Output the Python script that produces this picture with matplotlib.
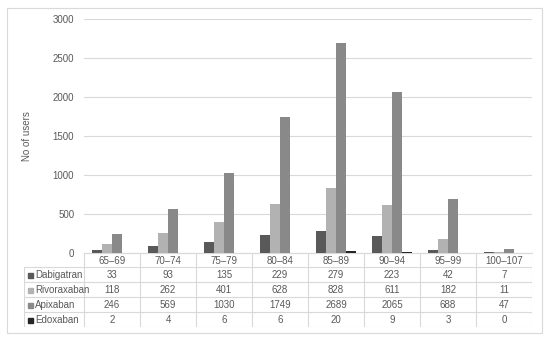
import numpy as np
import matplotlib
matplotlib.use("Agg")
import matplotlib.pyplot as plt
from matplotlib.patches import Rectangle

# --- Dados ---
faixas = ["65–69", "70–74", "75–79", "80–84", "85–89", "90–94", "95–99", "100–107"]
dabigatran = [33, 93, 135, 229, 279, 223, 42, 7]
rivoraxaban = [118, 262, 401, 628, 828, 611, 182, 11]
apixaban = [246, 569, 1030, 1749, 2689, 2065, 688, 47]
edoxaban = [2, 4, 6, 6, 20, 9, 3, 0]

nomes = ["Dabigatran", "Rivoraxaban", "Apixaban", "Edoxaban"]
series = [dabigatran, rivoraxaban, apixaban, edoxaban]
cores = ["#595959", "#b2b2b2", "#898989", "#262626"]

cor_texto = "#595959"
cor_linha = "#d9d9d9"
plt.rcParams["font.family"] = ["Liberation Sans", "DejaVu Sans"]

W, H = 550, 341
fig = plt.figure(figsize=(W / 100, H / 100), dpi=100)

def px_axes(x0, y0, x1, y1):
    # retangulo em pixels (origem no topo)
    return fig.add_axes([x0 / W, 1 - y1 / H, (x1 - x0) / W, (y1 - y0) / H])

# borda externa
fig.patches.append(Rectangle((7 / W, 1 - 333 / H), 535 / W, 325 / H,
                             transform=fig.transFigure, fill=False,
                             edgecolor=cor_linha, linewidth=0.8))

# --- Grafico de barras ---
ax = px_axes(84, 19, 532, 253)
x = np.arange(len(faixas))
larg = 0.18
for i, (nome, vals, cor) in enumerate(zip(nomes, series, cores)):
    ax.bar(x + (i - 1.5) * larg, vals, width=larg, color=cor, label=nome, zorder=3)

ax.set_xlim(-0.5, len(faixas) - 0.5)
ax.set_ylim(0, 3000)
ax.set_yticks(np.arange(0, 3001, 500))
ax.grid(axis="y", color=cor_linha, linewidth=0.8, zorder=0)
ax.set_xticks([])
for s in ["top", "right", "left"]:
    ax.spines[s].set_visible(False)
ax.spines["bottom"].set_color(cor_linha)
ax.tick_params(axis="y", length=0, labelsize=7, labelcolor=cor_texto, pad=7)
ax.set_ylabel("No of users", fontsize=7, color=cor_texto)
ax.yaxis.set_label_coords((32 - 84) / 448, 0.5)

# --- Tabela de dados ---
tx = px_axes(24, 253, 532, 327)
x_esq = -0.5 - 60 / 56
tx.set_xlim(x_esq, len(faixas) - 0.5)
# linhas em unidades de pixel: cabecalho 14, demais 15
bordas = [0, 14, 29, 44, 59, 74]
tx.set_ylim(74, 0)
tx.axis("off")

kw = dict(color=cor_linha, linewidth=0.8)
# linhas horizontais
tx.plot([-0.5, len(faixas) - 0.5], [0, 0], **kw)
for b in bordas[1:]:
    tx.plot([x_esq, len(faixas) - 0.5], [b, b], **kw)
# linhas verticais
for c in range(len(faixas) + 1):
    tx.plot([c - 0.5, c - 0.5], [0, 74], **kw)
tx.plot([x_esq, x_esq], [14, 74], **kw)

for j, f in enumerate(faixas):
    tx.text(j, 7.5, f, ha="center", va="center", fontsize=7, color=cor_texto)

for i, (nome, vals, cor) in enumerate(zip(nomes, series, cores)):
    yc = (bordas[i + 1] + bordas[i + 2]) / 2 + 0.5
    tx.add_patch(Rectangle((x_esq + 4 / 56, yc - 2.5), 5 / 56, 5, color=cor))
    tx.text(x_esq + 11 / 56, yc, nome, ha="left", va="center", fontsize=7, color=cor_texto)
    for j, v in enumerate(vals):
        tx.text(j, yc, str(v), ha="center", va="center", fontsize=7, color=cor_texto)

fig.savefig("out.png", dpi=100)
